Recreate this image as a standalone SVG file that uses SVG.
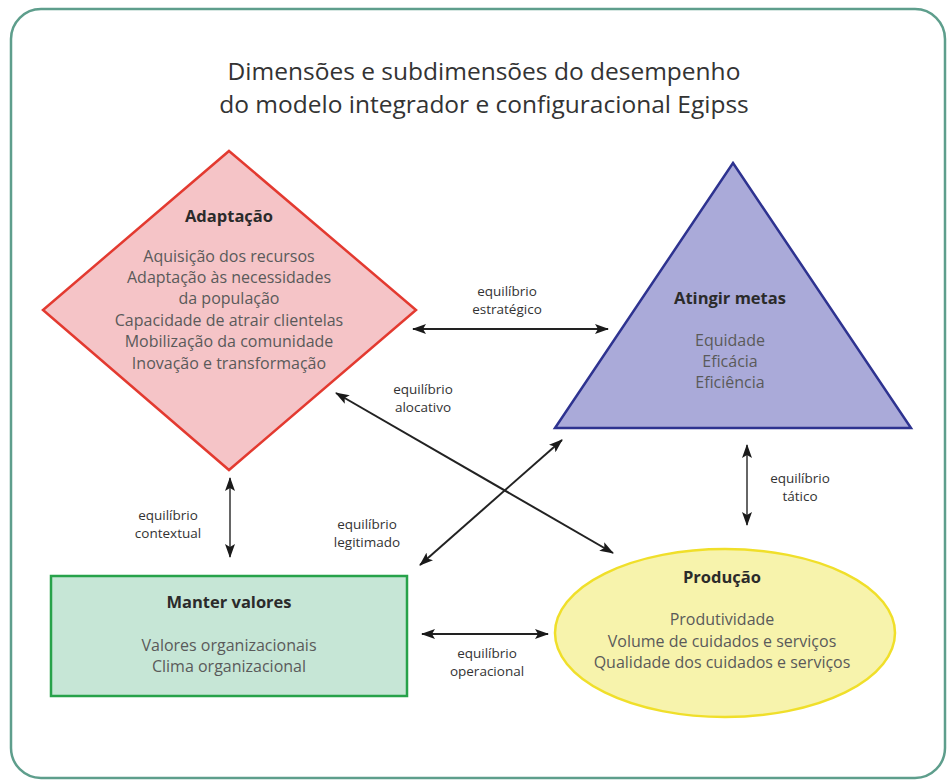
<svg xmlns="http://www.w3.org/2000/svg" width="947" height="780" viewBox="0 0 947 780">
<style>
.title{font-family:"Open Sans","Liberation Sans",sans-serif;font-size:24.5px;fill:#333;text-anchor:middle}
.head{font-family:"Open Sans","Liberation Sans",sans-serif;font-size:16.5px;font-weight:bold;fill:#2b2b2b;text-anchor:middle}
.body{font-family:"Open Sans","Liberation Sans",sans-serif;font-size:16px;fill:#5a5a5a;text-anchor:middle}
.lbl{font-family:"Open Sans","Liberation Sans",sans-serif;font-size:13.5px;fill:#333;text-anchor:middle}
.con{stroke:#222;stroke-width:2;fill:none;marker-start:url(#ah);marker-end:url(#ah)}
.con.g{stroke:#666}
</style>
<defs>
<marker id="ah" viewBox="0 0 14 10" refX="13" refY="5" markerWidth="14" markerHeight="10" markerUnits="userSpaceOnUse" orient="auto-start-reverse">
<path d="M0,0 L14,5 L0,10 L3,5 z" fill="#1a1a1a"/>
</marker>
</defs>
<rect x="0" y="0" width="947" height="780" fill="#ffffff"/>
<rect x="11" y="9" width="934" height="769" rx="30" ry="30" fill="#ffffff" stroke="#5e9e8c" stroke-width="2.5"/>
<text class="title" x="484" y="80">Dimensões e subdimensões do desempenho</text>
<text class="title" x="484" y="113">do modelo integrador e configuracional Egipss</text>

<g id="adaptacao">
<polygon points="229,151 416,310 229,470 43,310" fill="#f5c4c7" stroke="#e33a30" stroke-width="2.5"/>
<text class="head" x="229" y="222">Adaptação</text>
<text class="body" x="229" y="262">Aquisição dos recursos</text>
<text class="body" x="229" y="283">Adaptação às necessidades</text>
<text class="body" x="229" y="304">da população</text>
<text class="body" x="229" y="326">Capacidade de atrair clientelas</text>
<text class="body" x="229" y="347">Mobilização da comunidade</text>
<text class="body" x="229" y="369">Inovação e transformação</text>
</g>

<g id="atingir-metas">
<polygon points="733,163 911,428 555,428" fill="#aaaad9" stroke="#2e3390" stroke-width="2.5"/>
<text class="head" x="730" y="304">Atingir metas</text>
<text class="body" x="730" y="346">Equidade</text>
<text class="body" x="730" y="367">Eficácia</text>
<text class="body" x="730" y="388">Eficiência</text>
</g>

<g id="manter-valores">
<rect x="51" y="576" width="356" height="120" fill="#c6e6d6" stroke="#27a24a" stroke-width="2.5"/>
<text class="head" x="229" y="608">Manter valores</text>
<text class="body" x="229" y="651">Valores organizacionais</text>
<text class="body" x="229" y="672">Clima organizacional</text>
</g>

<g id="producao">
<ellipse cx="725" cy="633" rx="170" ry="84" fill="#f7f3ac" stroke="#f0df2a" stroke-width="2.5"/>
<text class="head" x="722" y="583">Produção</text>
<text class="body" x="722" y="625">Produtividade</text>
<text class="body" x="722" y="647">Volume de cuidados e serviços</text>
<text class="body" x="722" y="668">Qualidade dos cuidados e serviços</text>
</g>

<g id="connectors">
<line class="con" x1="413" y1="329" x2="608" y2="329"/>
<line class="con" x1="336" y1="393" x2="613" y2="553"/>
<line class="con" x1="562" y1="440" x2="420" y2="565"/>
<line class="con g" x1="230" y1="478" x2="230" y2="557"/>
<line class="con g" x1="747" y1="445" x2="747" y2="525"/>
<line class="con" x1="422" y1="634" x2="548" y2="634"/>
</g>

<g id="labels">
<text class="lbl" x="507" y="296">equilíbrio</text>
<text class="lbl" x="507" y="314">estratégico</text>
<text class="lbl" x="423" y="394">equilíbrio</text>
<text class="lbl" x="423" y="412">alocativo</text>
<text class="lbl" x="367" y="529">equilíbrio</text>
<text class="lbl" x="367" y="547">legitimado</text>
<text class="lbl" x="168" y="520">equilíbrio</text>
<text class="lbl" x="168" y="538">contextual</text>
<text class="lbl" x="800" y="483">equilíbrio</text>
<text class="lbl" x="800" y="501">tático</text>
<text class="lbl" x="487" y="658">equilíbrio</text>
<text class="lbl" x="487" y="676">operacional</text>
</g>
</svg>
